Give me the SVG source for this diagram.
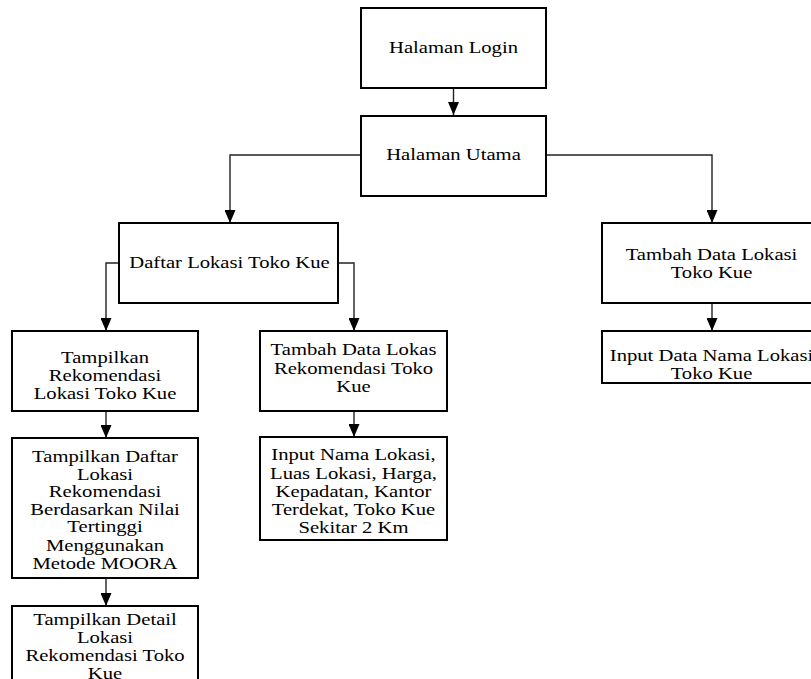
<svg xmlns="http://www.w3.org/2000/svg" width="811" height="679" viewBox="0 0 811 679">
  <style>
    .box { fill: #ffffff; stroke: #000000; stroke-width: 2; }
    .lbl { font-family: "Liberation Serif", "Times New Roman", serif; font-size: 17.5px; fill: #000000; text-anchor: middle; }
    .wire { fill: none; stroke: #222222; stroke-width: 1.4; }
  </style>
  <defs>
    <marker id="arrow" markerUnits="userSpaceOnUse" markerWidth="14" markerHeight="11" refX="13" refY="5.5" orient="auto">
      <path d="M0,0 L13,5.5 L0,11 Z" fill="#000000"/>
    </marker>
  </defs>
  <rect width="811" height="679" fill="#ffffff"/>

  <!-- connectors -->
  <g id="connectors">
    <path class="wire" d="M453.5,88 V115" marker-end="url(#arrow)"/>
    <path class="wire" d="M361,155 H230 V223" marker-end="url(#arrow)"/>
    <path class="wire" d="M546,155 H712 V223" marker-end="url(#arrow)"/>
    <path class="wire" d="M119,263 H106 V331" marker-end="url(#arrow)"/>
    <path class="wire" d="M338,263 H354 V331" marker-end="url(#arrow)"/>
    <path class="wire" d="M106,411 V438" marker-end="url(#arrow)"/>
    <path class="wire" d="M106,578 V606" marker-end="url(#arrow)"/>
    <path class="wire" d="M354,411 V437" marker-end="url(#arrow)"/>
    <path class="wire" d="M712,303 V331" marker-end="url(#arrow)"/>
  </g>

  <!-- nodes -->
  <g id="login">
    <rect class="box" x="361" y="8" width="185" height="80"/>
    <text class="lbl" transform="translate(453.5,0) scale(1.18 1)"><tspan x="0" y="53">Halaman Login</tspan></text>
  </g>

  <g id="utama">
    <rect class="box" x="361" y="116" width="185" height="80"/>
    <text class="lbl" transform="translate(453.5,0) scale(1.18 1)"><tspan x="0" y="160">Halaman Utama</tspan></text>
  </g>

  <g id="daftar-lokasi">
    <rect class="box" x="119" y="223" width="219" height="80"/>
    <text class="lbl" transform="translate(229.5,0) scale(1.18 1)"><tspan x="0" y="268">Daftar Lokasi Toko Kue</tspan></text>
  </g>

  <g id="tambah-data-lokasi">
    <rect class="box" x="602" y="223" width="220" height="80"/>
    <text class="lbl" transform="translate(711.5,0) scale(1.18 1)"><tspan x="0" y="260">Tambah Data Lokasi</tspan><tspan x="0" y="278">Toko Kue</tspan></text>
  </g>

  <g id="input-data-nama">
    <rect class="box" x="602" y="331" width="220" height="52"/>
    <text class="lbl" transform="translate(711.5,0) scale(1.18 1)"><tspan x="0" y="361">Input Data Nama Lokasi</tspan><tspan x="0" y="379">Toko Kue</tspan></text>
  </g>

  <g id="tampilkan-rekomendasi">
    <rect class="box" x="12" y="331" width="186" height="80"/>
    <text class="lbl" transform="translate(105,0) scale(1.18 1)"><tspan x="0" y="363">Tampilkan</tspan><tspan x="0" y="381">Rekomendasi</tspan><tspan x="0" y="399">Lokasi Toko Kue</tspan></text>
  </g>

  <g id="tambah-rekomendasi">
    <rect class="box" x="260" y="331" width="187" height="80"/>
    <text class="lbl" transform="translate(353.5,0) scale(1.18 1)"><tspan x="0" y="355">Tambah Data Lokas</tspan><tspan x="0" y="374">Rekomendasi Toko</tspan><tspan x="0" y="392">Kue</tspan></text>
  </g>

  <g id="input-kriteria">
    <rect class="box" x="260" y="437" width="187" height="103"/>
    <text class="lbl" transform="translate(353.5,0) scale(1.18 1)"><tspan x="0" y="460">Input Nama Lokasi,</tspan><tspan x="0" y="479">Luas Lokasi, Harga,</tspan><tspan x="0" y="497">Kepadatan, Kantor</tspan><tspan x="0" y="515">Terdekat, Toko Kue</tspan><tspan x="0" y="533">Sekitar 2 Km</tspan></text>
  </g>

  <g id="daftar-moora">
    <rect class="box" x="12" y="438" width="186" height="140"/>
    <text class="lbl" transform="translate(105,0) scale(1.18 1)"><tspan x="0" y="462">Tampilkan Daftar</tspan><tspan x="0" y="480">Lokasi</tspan><tspan x="0" y="497">Rekomendasi</tspan><tspan x="0" y="515">Berdasarkan Nilai</tspan><tspan x="0" y="532">Tertinggi</tspan><tspan x="0" y="551">Menggunakan</tspan><tspan x="0" y="569">Metode MOORA</tspan></text>
  </g>

  <g id="detail-lokasi">
    <rect class="box" x="12" y="606" width="186" height="90"/>
    <text class="lbl" transform="translate(105,0) scale(1.18 1)"><tspan x="0" y="625">Tampilkan Detail</tspan><tspan x="0" y="643">Lokasi</tspan><tspan x="0" y="661">Rekomendasi Toko</tspan><tspan x="0" y="679">Kue</tspan></text>
  </g>
</svg>
